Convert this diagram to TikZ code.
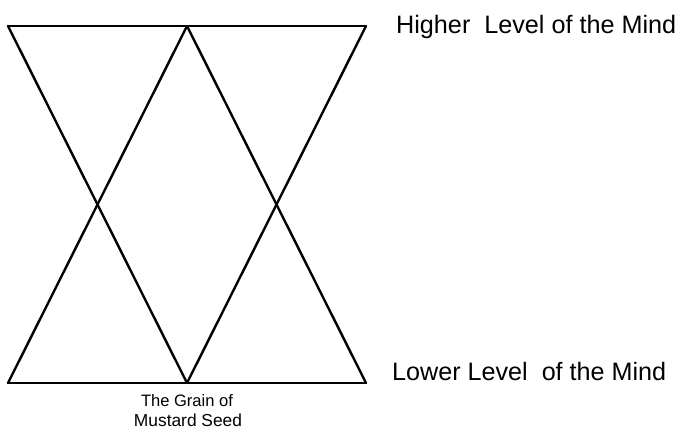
\documentclass[tikz,border=0pt]{standalone}
\usepackage{fontspec}
\setmainfont{Liberation Sans}
\begin{document}
\begin{tikzpicture}[x=1pt,y=-1pt,
  edge/.style={line width=2.4pt,line cap=round,line join=round},
  lbl/.style={inner sep=0pt,anchor=west},
  small/.style={inner sep=0pt,align=center,font=\fontsize{10}{12}\selectfont}]
\useasboundingbox (0,0) rectangle (684,433);
\coordinate (TL) at (8,26);
\coordinate (TM) at (187,26);
\coordinate (TR) at (366,26);
\coordinate (BL) at (8,383);
\coordinate (BM) at (187,383);
\coordinate (BR) at (366,383);
\draw[edge] (TL) -- (TR);
\draw[edge] (BL) -- (BR);
\draw[edge] (TL) -- (BM);
\draw[edge] (TM) -- (BL);
\draw[edge] (TM) -- (BR);
\draw[edge] (TR) -- (BM);
\node[lbl] (high) at (396,27) {\resizebox{280pt}{!}{Higher\ \ Level of the Mind}};
\node[lbl] (low) at (392,372) {\resizebox{274pt}{!}{Lower Level\ \ of the Mind}};
\node[small] (seed1) at (187,401) {\resizebox{92pt}{!}{The Grain of}};
\node[small] (seed2) at (188,420) {\resizebox{108pt}{!}{Mustard Seed}};
\end{tikzpicture}
\end{document}
